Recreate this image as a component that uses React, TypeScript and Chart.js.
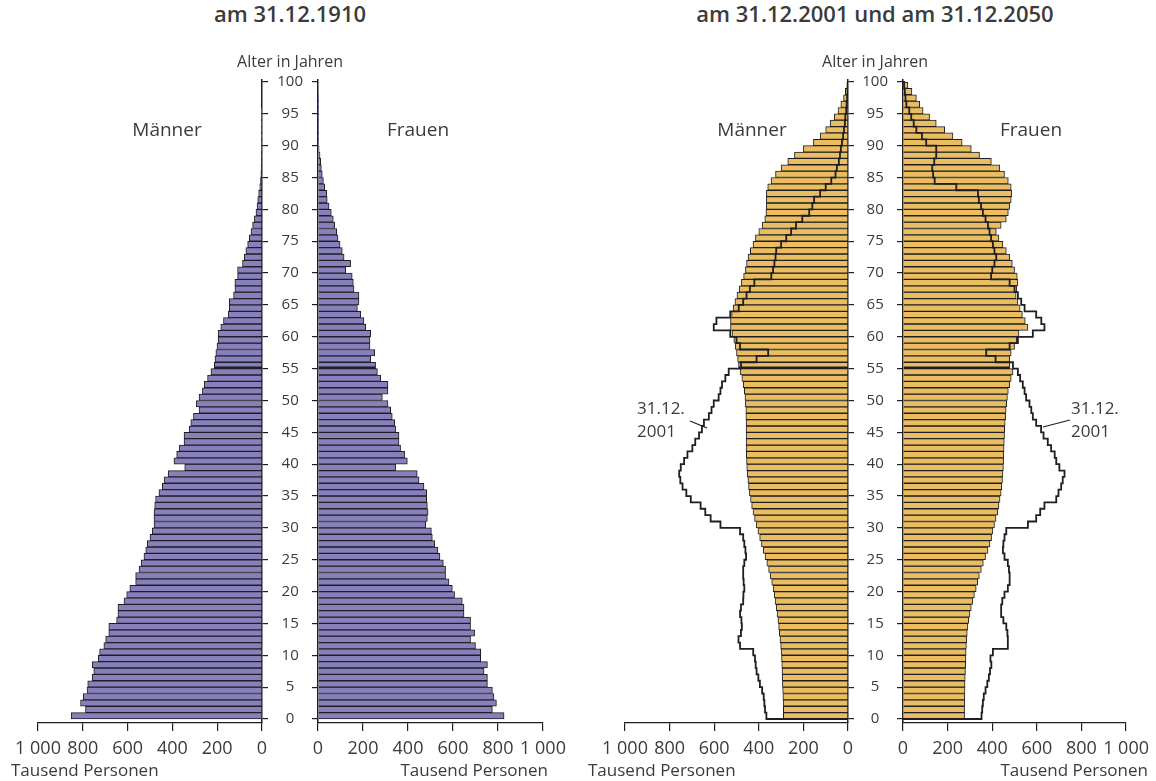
import React, { useEffect, useRef } from 'react';
import { Chart, registerables } from 'chart.js';
Chart.register(...registerables);

const FONT = "'Open Sans', 'DejaVu Sans', sans-serif";
const TEXT = '#3b3b3b';
const LINE = '#1e1e24';
const PURPLE = '#8780bb';
const YELLOW = '#e9bd60';

const AGE_TICKS = [0, 5, 10, 15, 20, 25, 30, 35, 40, 45, 50, 55, 60, 65, 70, 75, 80, 85, 90, 95, 100];
const X_TICKS = [0, 200, 400, 600, 800, 1000];
const MARKED_AGE = 55;

// Tausend Personen, ages 0..99
const MEN_1910 = [
  852, 788, 810, 798, 781, 778, 758, 751, 758, 731,
  725, 706, 698, 684, 684, 649, 643, 643, 616, 604,
  590, 564, 564, 549, 539, 527, 519, 512, 500, 490,
  482, 482, 482, 479, 475, 460, 445, 437, 419, 345,
  393, 381, 370, 348, 348, 325, 318, 306, 281, 293,
  281, 266, 258, 243, 228, 213, 210, 206, 201, 196,
  196, 184, 172, 151, 146, 146, 127, 121, 121, 109,
  109, 87, 79, 72, 64, 57, 49, 42, 34, 27,
  22, 19, 15, 10, 7, 5, 4, 3, 2, 1.5,
  1, 0.5, 0.4, 0.3, 0.2, 0.1, 0, 0, 0, 0,
];
const WOMEN_1910 = [
  827, 775, 793, 782, 775, 753, 753, 738, 753, 723,
  723, 700, 678, 696, 678, 678, 649, 649, 641, 607,
  597, 582, 567, 567, 557, 542, 533, 519, 508, 504,
  479, 486, 489, 486, 483, 483, 471, 449, 441, 345,
  397, 385, 367, 360, 360, 345, 341, 330, 323, 311,
  286, 311, 311, 279, 264, 256, 234, 252, 231, 231,
  234, 212, 204, 190, 175, 182, 182, 160, 157, 152,
  123, 145, 116, 108, 98, 89, 83, 74, 68, 59,
  49, 41, 39, 30, 24, 19, 15, 12, 9, 5,
  3, 2, 1.5, 1, 0.5, 0.3, 0.2, 0.1, 0, 0,
];
const MEN_2050 = [
  290, 290, 291, 292, 293, 294, 295, 296, 297, 298,
  300, 302, 305, 308, 311, 314, 318, 322, 327, 331,
  336, 342, 349, 356, 364, 372, 380, 388, 396, 404,
  412, 419, 426, 432, 437, 442, 446, 449, 452, 454,
  455, 456, 457, 457, 457, 457, 457, 458, 458, 460,
  462, 465, 470, 476, 484, 491, 495, 500, 506, 512,
  520, 527, 527, 522, 515, 507, 498, 488, 478, 468,
  460, 455, 448, 438, 426, 415, 400, 385, 373, 368,
  366, 366, 366, 360, 345, 325, 300, 270, 240, 200,
  155, 125, 100, 80, 62, 45, 32, 20, 12, 5,
];
const WOMEN_2050 = [
  276, 276, 277, 277, 278, 278, 279, 280, 281, 282,
  283, 284, 286, 288, 291, 295, 300, 306, 313, 320,
  328, 335, 342, 351, 360, 370, 381, 390, 397, 403,
  410, 417, 425, 430, 435, 440, 443, 446, 448, 450,
  451, 452, 453, 454, 455, 456, 458, 460, 462, 465,
  468, 472, 478, 485, 493, 478, 478, 485, 500, 510,
  520, 560, 548, 535, 525, 515, 507, 510, 515, 512,
  500, 490, 478, 463, 448, 430, 418, 440, 463, 472,
  478, 485, 488, 485, 472, 455, 433, 396, 343, 306,
  265, 224, 187, 149, 119, 90, 75, 60, 40, 22,
];
const MEN_2001 = [
  366, 372, 375, 378, 385, 395, 402, 410, 414, 417,
  425, 484, 491, 480, 476, 478, 484, 480, 470, 469,
  465, 468, 470, 470, 465, 457, 460, 465, 470, 484,
  572, 616, 640, 661, 705, 725, 742, 752, 757, 750,
  735, 720, 698, 685, 668, 655, 646, 624, 612, 602,
  580, 572, 565, 550, 535, 480, 410, 358, 484, 500,
  528, 602, 590, 528, 490, 470, 455, 440, 420, 344,
  336, 330, 325, 322, 300, 277, 255, 233, 205, 174,
  160, 152, 125, 100, 75, 56, 50, 41, 36, 32,
  27, 22, 18, 14, 12, 8, 6, 4, 2, 1,
];
const WOMEN_2001 = [
  352, 355, 358, 362, 370, 378, 385, 390, 396, 392,
  403, 470, 470, 468, 463, 450, 440, 440, 445, 455,
  470, 478, 478, 475, 470, 455, 448, 450, 455, 463,
  560, 597, 615, 634, 687, 697, 709, 716, 724, 701,
  687, 680, 664, 649, 630, 619, 597, 582, 575, 567,
  552, 545, 537, 525, 515, 493, 415, 373, 478, 515,
  582, 634, 620, 597, 545, 530, 515, 500, 478, 395,
  400, 410, 418, 410, 403, 395, 388, 381, 370, 358,
  350, 340, 336, 239, 142, 135, 131, 140, 149, 149,
  104, 85, 60, 48, 37, 28, 15, 11, 8, 5,
];

const fmt = (v: number) => (v >= 1000 ? '1 000' : String(v));

type HalfProps = {
  side: 'left' | 'right';
  bars: number[];
  outline?: number[];
  fill: string;
  canvasLeft: number;
  canvasWidth: number;
  padLeft: number;
  padRight: number;
  axisWidth: number;
};

function Half(p: HalfProps) {
  const ref = useRef<HTMLCanvasElement>(null);
  useEffect(() => {
    const el = ref.current;
    if (!el) return;
    const datasets: any[] = [];
    if (p.outline) {
      const pts = [{ x: 0, y: 0 }, ...p.outline.map((v, i) => ({ x: v, y: i })), { x: 0, y: p.outline.length }];
      datasets.push({
        type: 'line',
        data: pts,
        stepped: 'after',
        borderColor: LINE,
        borderWidth: 1.8,
        pointRadius: 0,
        fill: false,
        order: 0,
      });
    }
    datasets.push({
      type: 'bar',
      data: p.bars.map((v, i) => ({ x: v, y: i + 0.5 })),
      backgroundColor: p.fill,
      borderColor: LINE,
      borderWidth: (c: any) =>
        c.dataIndex === MARKED_AGE ? { top: 1, left: 1, right: 1, bottom: 2.4 } : 1,
      categoryPercentage: 1,
      barPercentage: 1,
      order: 1,
    });
    const chart = new Chart(el, {
      type: 'bar',
      data: { datasets },
      options: {
        indexAxis: 'y',
        animation: false,
        responsive: false,
        maintainAspectRatio: false,
        events: [],
        layout: { padding: { left: p.padLeft, right: p.padRight, top: 20, bottom: 0 } },
        plugins: { legend: { display: false }, tooltip: { enabled: false }, title: { display: false } },
        scales: {
          x: {
            type: 'linear',
            min: 0,
            max: 1000,
            offset: false,
            reverse: p.side === 'left',
            afterBuildTicks: (s: any) => {
              s.ticks = X_TICKS.map((v) => ({ value: v }));
            },
            afterFit: (s: any) => {
              s.height = 58;
            },
            ticks: {
              font: { family: FONT, size: 18 },
              color: TEXT,
              padding: 7,
              maxRotation: 0,
              autoSkip: false,
              callback: (v: any) => fmt(Number(v)),
            },
            grid: { offset: false, drawOnChartArea: false, drawTicks: true, tickLength: 8, color: LINE, lineWidth: 1.2 },
            border: { display: true, color: LINE, width: 1.2 },
          },
          y: {
            type: 'linear',
            min: -0.63,
            max: 100.31,
            offset: false,
            position: p.side === 'left' ? 'right' : 'left',
            afterBuildTicks: (s: any) => {
              s.ticks = AGE_TICKS.map((v) => ({ value: v }));
            },
            afterFit: (s: any) => {
              s.width = p.axisWidth;
            },
            ticks: {
              display: p.side === 'right',
              font: { family: FONT, size: 15 },
              color: TEXT,
              crossAlign: 'center',
              padding: 9,
              autoSkip: false,
            },
            grid: { offset: false, drawOnChartArea: false, drawTicks: true, tickLength: 6, color: LINE, lineWidth: 1.2 },
            border: { display: true, color: LINE, width: 1.5 },
          },
        },
      },
    } as any);
    return () => chart.destroy();
  }, []);
  return (
    <canvas
      ref={ref}
      width={p.canvasWidth}
      height={721}
      style={{ position: 'absolute', left: p.canvasLeft, top: 60, width: p.canvasWidth, height: 721 }}
    />
  );
}

const txt = (s: string, x: number, y: number, size: number, align: 'center' | 'left' | 'right' = 'center', weight = 400) => {
  const tx = align === 'center' ? '-50%' : align === 'right' ? '-100%' : '0';
  return (
    <div
      style={{
        position: 'absolute',
        left: x,
        top: y,
        transform: `translate(${tx}, -50%)`,
        fontFamily: FONT,
        fontSize: size,
        fontWeight: weight,
        color: TEXT,
        whiteSpace: 'nowrap',
        lineHeight: 1.15,
      }}
    >
      {s}
    </div>
  );
};

export default function App() {
  return (
    <div style={{ position: 'fixed', left: 0, top: 0, width: 1156, height: 781, background: '#fff', overflow: 'hidden' }}>
      <Half side="left" bars={MEN_1910} fill={PURPLE} canvasLeft={0} canvasWidth={268} padLeft={38} padRight={0} axisWidth={6} />
      <Half side="right" bars={WOMEN_1910} fill={PURPLE} canvasLeft={262} canvasWidth={318} padLeft={0} padRight={37} axisWidth={56} />
      <Half side="left" bars={MEN_2050} outline={MEN_2001} fill={YELLOW} canvasLeft={585} canvasWidth={269} padLeft={40} padRight={0} axisWidth={6} />
      <Half side="right" bars={WOMEN_2050} outline={WOMEN_2001} fill={YELLOW} canvasLeft={848} canvasWidth={308} padLeft={0} padRight={28} axisWidth={55} />

      {txt('am 31.12.1910', 290, 14, 22, 'center', 600)}
      {txt('am 31.12.2001 und am 31.12.2050', 875, 14, 22, 'center', 600)}
      {txt('Alter in Jahren', 290, 61, 16)}
      {txt('Alter in Jahren', 875, 61, 16)}
      {txt('Männer', 167, 130, 19)}
      {txt('Frauen', 418, 130, 19)}
      {txt('Männer', 752, 130, 19)}
      {txt('Frauen', 1031, 130, 19)}
      {txt('Tausend Personen', 11, 770, 17, 'left')}
      {txt('Tausend Personen', 548, 770, 17, 'right')}
      {txt('Tausend Personen', 588, 770, 17, 'left')}
      {txt('Tausend Personen', 1148, 770, 17, 'right')}
      {txt('31.12.', 637, 408, 17, 'left')}
      {txt('2001', 637, 431, 17, 'left')}
      {txt('31.12.', 1071, 408, 17, 'left')}
      {txt('2001', 1071, 431, 17, 'left')}
      <svg width={1156} height={781} style={{ position: 'absolute', left: 0, top: 0, pointerEvents: 'none' }}>
        <line x1={690} y1={421} x2={707} y2={428} stroke={LINE} strokeWidth={1.2} />
        <line x1={1043} y1={427} x2={1070} y2={420} stroke={LINE} strokeWidth={1.2} />
      </svg>
    </div>
  );
}
